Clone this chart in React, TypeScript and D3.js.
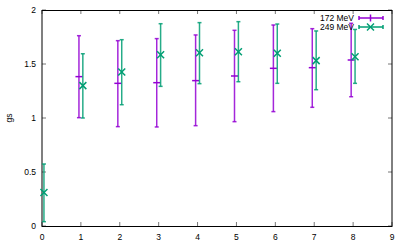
import React from "react";
import * as d3 from "d3";

const xTicks = [0, 1, 2, 3, 4, 5, 6, 7, 8, 9];
const yTicks = [0, 0.5, 1, 1.5, 2];
const yTickLabels = ["0", "0.5", "1", "1.5", "2"];

const s172Name = "172 MeV";
const s172X = [1, 2, 3, 4, 5, 6, 7, 8];
const s172Y = [1.383, 1.321, 1.327, 1.346, 1.389, 1.46, 1.466, 1.537];
const s172Lo = [1.003, 0.92, 0.917, 0.929, 0.966, 1.059, 1.099, 1.197];
const s172Hi = [1.762, 1.716, 1.735, 1.769, 1.812, 1.861, 1.827, 1.877];

const s249Name = "249 MeV";
const s249X = [0, 1, 2, 3, 4, 5, 6, 7, 8];
const s249Y = [0.31, 1.3, 1.426, 1.586, 1.605, 1.614, 1.599, 1.531, 1.568];
const s249Lo = [0.04, 1.0, 1.123, 1.293, 1.318, 1.336, 1.321, 1.262, 1.321];
const s249Hi = [0.574, 1.595, 1.725, 1.873, 1.883, 1.892, 1.87, 1.806, 1.82];

const PURPLE = "#9400d3";
const GREEN = "#009e73";

export default function App() {
  const W = 407, H = 244;
  const L = 42, R = 392, T = 10, B = 226;
  const x = d3.scaleLinear().domain([0, 9]).range([L, R]);
  const y = d3.scaleLinear().domain([0, 2]).range([B, T]);
  const font = "'Liberation Sans', Arial, sans-serif";
  const fs = 8.5;
  const off = 0.05;
  const cap = 2;

  const bars = (xs: number[], ys: number[], lo: number[], hi: number[], color: string, dx: number, kind: "plus" | "cross") =>
    xs.map((xv, i) => {
      const cx = x(xv + dx);
      const cy = y(ys[i]);
      const m = 3.5;
      return (
        <g key={i} stroke={color} strokeWidth={1.5} strokeOpacity={0.85}>
          <line x1={cx} x2={cx} y1={y(lo[i])} y2={y(hi[i])} />
          <line x1={cx - cap} x2={cx + cap} y1={y(lo[i])} y2={y(lo[i])} />
          <line x1={cx - cap} x2={cx + cap} y1={y(hi[i])} y2={y(hi[i])} />
          {kind === "plus" ? (
            <line x1={cx - m} x2={cx + m} y1={cy} y2={cy} strokeOpacity={1} />
          ) : (
            <g strokeOpacity={1}>
              <line x1={cx - m} x2={cx + m} y1={cy - m} y2={cy + m} />
              <line x1={cx - m} x2={cx + m} y1={cy + m} y2={cy - m} />
            </g>
          )}
        </g>
      );
    });

  const tl = 4;
  return (
    <svg width={W} height={H} style={{ position: "absolute", left: 0, top: 0 }} fontFamily={font} fontSize={fs}>
      <rect width={W} height={H} fill="white" />
      {xTicks.map((t) => (
        <g key={"x" + t}>
          <line x1={x(t)} x2={x(t)} y1={B} y2={B - tl} stroke="#777" />
          <line x1={x(t)} x2={x(t)} y1={T} y2={T + tl} stroke="#777" />
        </g>
      ))}
      {yTicks.map((t) => (
        <g key={"y" + t}>
          <line x1={L} x2={L + tl} y1={y(t)} y2={y(t)} stroke="#777" />
          <line x1={R} x2={R - tl} y1={y(t)} y2={y(t)} stroke="#777" />
        </g>
      ))}
      <rect x={L} y={T + 0.5} width={R - L} height={B - T} fill="none" stroke="#000" strokeWidth={1} />
      {xTicks.map((t) => (
        <text key={"xl" + t} x={x(t)} y={B + 14} textAnchor="middle" fill="#000">{t}</text>
      ))}
      {yTicks.map((t, i) => (
        <text key={"yl" + t} x={L - 6} y={y(t) + 3} textAnchor="end" fill="#000">{yTickLabels[i]}</text>
      ))}
      <text transform={`translate(12,${(T + B) / 2}) rotate(-90)`} textAnchor="middle" fill="#000">gs</text>
      {bars(s172X, s172Y, s172Lo, s172Hi, PURPLE, -off, "plus")}
      {bars(s249X, s249Y, s249Lo, s249Hi, GREEN, off, "cross")}
      <g>
        <text x={354} y={21} textAnchor="end" fill="#000">{s172Name}</text>
        <g stroke={PURPLE} strokeWidth={1.5}>
          <line x1={359} x2={383} y1={18} y2={18} />
          <line x1={359} x2={359} y1={16} y2={20} />
          <line x1={383} x2={383} y1={16} y2={20} />
          <line x1={370.5} x2={370.5} y1={14.5} y2={21.5} />
        </g>
        <text x={354} y={30} textAnchor="end" fill="#000">{s249Name}</text>
        <g stroke={GREEN} strokeWidth={1.5}>
          <line x1={359} x2={383} y1={27} y2={27} />
          <line x1={359} x2={359} y1={25} y2={29} />
          <line x1={383} x2={383} y1={25} y2={29} />
          <line x1={367} x2={374} y1={23.5} y2={30.5} />
          <line x1={367} x2={374} y1={30.5} y2={23.5} />
        </g>
      </g>
    </svg>
  );
}
